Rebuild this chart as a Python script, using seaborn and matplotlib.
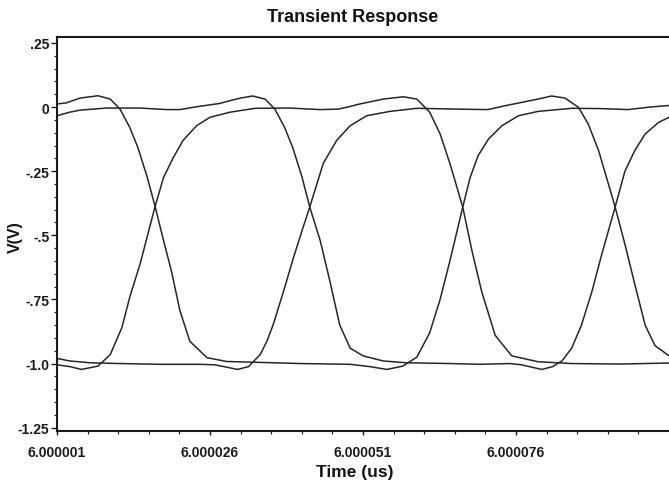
"""Transient response of a four-phase clock, redrawn from a simulator screenshot."""

import matplotlib

matplotlib.use("Agg")

import matplotlib.pyplot as plt
import numpy as np
import pandas as pd
import seaborn as sns
from matplotlib.ticker import FixedLocator, MultipleLocator

T0_US = 6.000001  # left edge of the time window (us)

# Each trace: time offset from T0_US in picoseconds, voltage in volts.
p1_ps = [0, 1.5, 3.8, 6.7, 8.7, 10.3, 11.9, 13.2, 14.7, 16.0, 17.3, 18.7, 20.1,
         21.7, 24.5, 27.7, 32.4, 39.7, 47.9, 51.1, 53.9, 56.5, 58.8, 60.9, 62.6,
         64.2, 66.3, 67.5, 68.8, 70.5, 72.7, 75.4, 78.6, 84.1, 88.7, 93.3, 96.9, 100]
p1_v = [0.012, 0.016, 0.035, 0.044, 0.031, -0.008, -0.08, -0.157, -0.27, -0.385,
        -0.51, -0.64, -0.795, -0.913, -0.977, -0.992, -0.995, -1.0, -1.003, -1.012,
        -1.023, -1.01, -0.975, -0.88, -0.75, -0.60, -0.39, -0.275, -0.19, -0.125,
        -0.073, -0.034, -0.017, -0.005, -0.006, -0.01, 0.0, 0.006]

n1_ps = [0, 2.1, 4.0, 6.7, 8.7, 10.6, 11.9, 13.6, 16.0, 17.4, 19.0, 20.6, 22.8,
         25.0, 28.3, 32.4, 38.0, 43.0, 46.0, 47.5, 49.5, 53.3, 56.6, 58.8, 60.9,
         62.6, 64.2, 66.3, 67.8, 69.4, 71.6, 74.3, 78.6, 84.1, 92.0, 100]
n1_v = [-1.005, -1.012, -1.023, -1.01, -0.965, -0.86, -0.74, -0.61, -0.39, -0.275,
        -0.197, -0.13, -0.073, -0.04, -0.02, -0.005, -0.004, -0.01, -0.008, 0.0,
        0.012, 0.031, 0.04, 0.031, -0.02, -0.105, -0.22, -0.39, -0.56, -0.72,
        -0.89, -0.97, -0.993, -1.0, -1.002, -0.998]

p2_ps = [0, 2.1, 3.8, 8.1, 13.6, 17.9, 20.1, 22.8, 26.6, 28.3, 30.0, 32.0, 34.0,
         35.6, 37.2, 38.5, 40.0, 41.3, 43.0, 44.6, 46.2, 47.9, 50.0, 53.3, 57.1,
         64.2, 69.1, 74.0, 75.9, 79.2, 81.0, 82.5, 84.1, 85.7, 87.4, 89.0, 91.2,
         92.8, 94.4, 96.1, 98.3, 100]
p2_v = [-0.034, -0.02, -0.012, -0.004, -0.004, -0.01, -0.01, 0.001, 0.014, 0.025,
        0.035, 0.043, 0.031, -0.008, -0.08, -0.157, -0.27, -0.39, -0.52, -0.68,
        -0.85, -0.94, -0.97, -0.99, -0.997, -1.0, -1.003, -1.0, -1.005, -1.023,
        -1.012, -0.99, -0.94, -0.85, -0.72, -0.575, -0.39, -0.25, -0.17, -0.105,
        -0.06, -0.04]

n2_ps = [0, 2.1, 5.4, 10.3, 16.8, 23.4, 25.8, 27.7, 29.5, 31.3, 33.2, 34.3, 35.3,
         37.0, 38.6, 40.2, 41.3, 43.5, 45.7, 47.9, 50.6, 54.4, 58.8, 65.0, 70.4,
         73.2, 75.9, 78.6, 80.8, 83.0, 85.2, 86.8, 88.5, 90.1, 91.2, 92.8, 94.4,
         96.1, 97.7, 100]
n2_v = [-0.98, -0.99, -0.997, -1.0, -1.003, -1.003, -1.005, -1.014, -1.023, -1.012,
        -0.965, -0.913, -0.85, -0.72, -0.59, -0.47, -0.39, -0.22, -0.13, -0.073,
        -0.034, -0.017, -0.005, -0.008, -0.01, 0.005, 0.018, 0.031, 0.043, 0.035,
        -0.001, -0.066, -0.17, -0.30, -0.39, -0.535, -0.69, -0.85, -0.93, -0.97]

x_ticks_us = [6.000001, 6.000026, 6.000051, 6.000076]
x_tick_labels = ["6.000001", "6.000026", "6.000051", "6.000076"]
y_ticks = [0.25, 0.0, -0.25, -0.5, -0.75, -1.0, -1.25]
y_tick_labels = [".25", "0", "-.25", "-.5", "-.75", "-1.0", "-1.25"]

traces = {"p1": (p1_ps, p1_v), "n1": (n1_ps, n1_v), "p2": (p2_ps, p2_v), "n2": (n2_ps, n2_v)}
frames = [
    pd.DataFrame({"time": T0_US + np.asarray(ps) * 1e-6, "voltage": v, "trace": name})
    for name, (ps, v) in traces.items()
]
data = pd.concat(frames, ignore_index=True)

sns.set_theme(style="ticks")
plt.rcParams["font.family"] = ["Liberation Sans", "DejaVu Sans"]

W, H = 669, 485
fig = plt.figure(figsize=(W / 100, H / 100), dpi=100)
ax = fig.add_axes([57 / W, 1 - 432 / H, (W - 57) / W, 394 / H])

sns.lineplot(
    data=data, x="time", y="voltage", hue="trace", units="trace", estimator=None,
    palette=["#262626"] * 4, linewidth=1.1, legend=False, ax=ax,
)

ax.set_xlim(T0_US, T0_US + 100e-6)
ax.set_ylim(-1.263, 0.273)

ax.set_xticks(x_ticks_us, x_tick_labels)
ax.xaxis.set_minor_locator(FixedLocator([T0_US + k * 5e-6 for k in range(20)]))
ax.set_yticks(y_ticks, y_tick_labels)
ax.yaxis.set_minor_locator(MultipleLocator(0.05))

for spine in ("top", "left", "bottom"):
    ax.spines[spine].set_linewidth(1.5)
    ax.spines[spine].set_color("#1a1a1a")
ax.spines["right"].set_visible(False)

ax.tick_params(axis="x", which="major", length=3.2, width=1.0, pad=7,
               labelsize=10, colors="#1a1a1a")
ax.tick_params(axis="x", which="minor", length=1.8, width=0.8, colors="#1a1a1a")
ax.tick_params(axis="y", which="major", length=4.5, width=1.0, pad=1,
               labelsize=10, colors="#1a1a1a")
ax.tick_params(axis="y", which="minor", length=2.0, width=0.8, colors="#1a1a1a")
for label in ax.get_xticklabels() + ax.get_yticklabels():
    label.set_fontweight("bold")

ax.set_xlabel("Time (us)", fontsize=12.5, fontweight="bold", color="#111111")
ax.xaxis.set_label_coords(298 / 612, -33 / 394)
ax.set_ylabel("V(V)", fontsize=11.5, fontweight="bold", color="#111111")
ax.yaxis.set_label_coords(-34 / 612, 195 / 394)

fig.text(353 / W, 1 - 17.5 / H, "Transient Response", ha="center", va="center",
         fontsize=13, fontweight="bold", color="#111111")

fig.savefig("out.png", dpi=100)
